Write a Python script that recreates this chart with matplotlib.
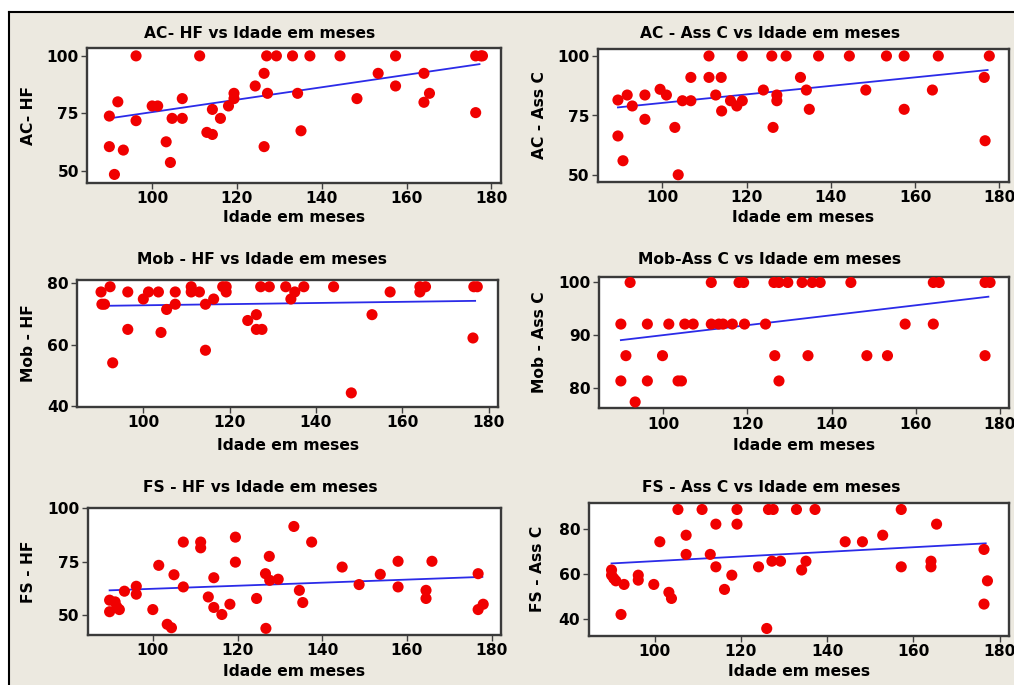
import matplotlib
matplotlib.use("Agg")
import matplotlib.pyplot as plt
from matplotlib.patches import Rectangle

# -------------------------
# Data
# -------------------------
ac_hf_x = [89.9, 89.9, 91.1, 91.9, 93.2, 96.2, 96.2, 100, 101.3, 103.3, 104.3, 104.7,
           107.1, 107.1, 111.2, 112.9, 114.2, 114.2, 116.1, 118, 119.3, 119.3, 124.3,
           126.4, 126.4, 127, 127.2, 129.3, 133.1, 134.3, 135.1, 137.2, 144.3, 148.3,
           153.3, 157.4, 157.4, 164.1, 164.1, 165.4, 176.3, 176.3, 177.5, 177.9]
ac_hf_y = [73.8, 60.5, 48.4, 80, 59, 100, 71.8, 78.2, 78.2, 62.6, 53.6, 72.8,
           81.4, 72.8, 100, 66.7, 76.7, 65.8, 72.8, 78.2, 83.7, 81.4, 86.9,
           92.4, 60.5, 100, 83.7, 100, 100, 83.7, 67.4, 100, 100, 81.4,
           92.4, 100, 86.9, 92.4, 79.8, 83.7, 75.3, 100, 100, 100]

ac_ass_x = [89.5, 89.5, 90.7, 91.7, 92.9, 95.9, 95.9, 99.5, 101, 103, 103.8, 104.8,
            106.8, 106.8, 111.1, 111.1, 112.7, 114, 114.1, 116.2, 117.7, 119, 119,
            124, 126, 126.3, 127.2, 127.2, 129.4, 132.8, 134.2, 134.9, 137.1, 144.4,
            148.3, 153.2, 157.4, 157.4, 164.1, 165.5, 176.4, 176.6, 177.6]
ac_ass_y = [81.5, 66.4, 56, 83.6, 79, 83.6, 73.4, 86, 83.6, 70, 50.1, 81.2,
            91, 81.2, 100, 91, 83.6, 91, 76.9, 81.2, 79, 81.2, 100,
            85.7, 100, 70, 83.6, 81.2, 100, 91, 85.7, 77.6, 100, 100,
            85.7, 100, 100, 77.6, 85.7, 100, 91, 64.4, 100]

mob_hf_x = [90.2, 90.4, 91, 92.3, 92.9, 96.4, 96.4, 100, 101.2, 103.5, 104.1, 105.4,
            107.4, 107.4, 111.1, 111.1, 113, 114.4, 114.4, 116.3, 118.4, 119.2, 119.2,
            124.2, 126.2, 126.2, 127.5, 127.2, 129.2, 133, 134.2, 135.1, 137.2, 144.1,
            148.2, 153, 157.2, 164.1, 164.1, 165.4, 176.4, 176.6, 177.4]
mob_hf_y = [77.2, 73.2, 73.2, 78.9, 54.1, 77.2, 65, 74.9, 77.2, 77.2, 64, 71.5,
            77.2, 73.2, 78.9, 77.2, 77.2, 73.2, 58.2, 74.9, 78.9, 78.9, 77.2,
            67.9, 69.8, 65, 65, 78.9, 78.9, 78.9, 74.9, 77.2, 78.9, 78.9,
            44.3, 69.8, 77.2, 78.9, 77.2, 78.9, 62.2, 78.9, 78.9]

mob_ass_x = [89.9, 89.9, 91.1, 92.1, 93.3, 96.2, 96.2, 99.8, 101.3, 103.5, 104.3, 105.1,
             107.1, 111.4, 111.4, 113.2, 114.2, 116.4, 118, 119.1, 119.3, 124.3, 126.3,
             126.5, 127.5, 127.5, 129.6, 133, 134.4, 135.4, 137.3, 144.6, 148.4, 153.3,
             157.5, 164.2, 164.2, 165.6, 176.5, 176.5, 177.7]
mob_ass_y = [92.1, 81.3, 86.1, 100, 77.3, 92.1, 81.3, 86.1, 92.1, 81.3, 81.3, 92.1,
             92.1, 100, 92.1, 92.1, 92.1, 92.1, 100, 100, 92.1, 92.1, 100,
             86.1, 81.3, 100, 100, 100, 86.1, 100, 100, 100, 86.1, 86.1,
             92.1, 100, 92.1, 100, 100, 86.1, 100]

fs_hf_x = [89.8, 89.8, 91.1, 91.5, 92.1, 93.3, 96.1, 96.1, 100, 101.4, 103.4, 104.4,
           105, 107.2, 107.2, 111.3, 111.3, 113.1, 114.4, 114.4, 116.3, 118.2, 119.5,
           119.5, 124.5, 126.6, 126.7, 127.5, 127.6, 129.6, 133.3, 134.6, 135.4, 137.5,
           144.7, 148.7, 153.7, 157.9, 157.9, 164.5, 164.5, 165.9, 176.8, 176.8, 178]
fs_hf_y = [57, 51.6, 56.2, 53.9, 52.6, 61.2, 63.5, 59.8, 52.6, 73.3, 45.7, 44.1,
           68.9, 84.2, 63.2, 84.2, 81.5, 58.5, 67.5, 53.6, 50.3, 55.1, 86.5,
           74.8, 57.8, 69.4, 43.8, 77.5, 66.3, 66.8, 91.5, 61.6, 55.9, 84.2,
           72.5, 64.3, 69.1, 75.2, 63.2, 61.6, 57.8, 75.2, 69.4, 52.6, 55.1]

fs_ass_x = [90, 90, 90.5, 91, 92.2, 92.9, 96.2, 96.2, 99.8, 101.2, 103.3, 103.9,
            105.4, 107.3, 107.3, 111, 112.9, 114.2, 114.2, 116.2, 117.9, 119.1, 119.1,
            124.1, 126, 126.4, 127.5, 127.2, 129.2, 132.9, 134.1, 135.1, 137.2, 144.2,
            148.2, 152.9, 157.2, 157.2, 164.1, 164.1, 165.4, 176.4, 176.4, 177.2]
fs_ass_y = [61.9, 59.6, 58.2, 57.1, 42.2, 55.5, 59.6, 57.4, 55.5, 74.4, 52, 49.3,
            88.7, 77.3, 68.8, 88.7, 68.8, 82.2, 63.3, 53.3, 59.6, 88.7, 82.2,
            63.3, 36, 88.7, 88.7, 65.8, 65.8, 88.7, 61.9, 65.8, 88.7, 74.4,
            74.4, 77.3, 88.7, 63.3, 65.8, 63.3, 82.2, 71, 46.8, 57.1]

# fitted line end points (x start/end, y start/end) as drawn
fit_x = {"ac_hf": [89.9, 177.2], "ac_ass": [89.5, 177.2], "mob_hf": [91.9, 176.9],
         "mob_ass": [89.9, 177.3], "fs_hf": [89.8, 177.8], "fs_ass": [90, 176.8]}
fit_y = {"ac_hf": [72.8, 96.4], "ac_ass": [78.4, 94.1], "mob_hf": [72.7, 74.3],
         "mob_ass": [89.05, 97.3], "fs_hf": [61.6, 67.9], "fs_ass": [64.8, 73.7]}

titles = ["AC- HF vs Idade em meses", "AC - Ass C vs Idade em meses",
          "Mob - HF vs Idade em meses", "Mob-Ass C vs Idade em meses",
          "FS - HF vs Idade em meses", "FS - Ass C vs Idade em meses"]
ylabels = ["AC- HF", "AC - Ass C", "Mob - HF", "Mob - Ass C", "FS - HF", "FS - Ass C"]
xlabel = "Idade em meses"
xticks = [100, 120, 140, 160, 180]
yticks = [[50, 75, 100], [50, 75, 100], [40, 60, 80], [80, 90, 100], [50, 75, 100], [40, 60, 80]]

# -------------------------
# Layout (pixels of the original picture)
# -------------------------
W, H = 1014, 685
BG = "#ECE9E0"
FS = 11.2
boxes = [(87.3, 500.7, 48.3, 182.7), (597.7, 1008.7, 49.3, 181.7),
         (77.3, 498.0, 280.0, 406.7), (599.0, 1009.0, 276.7, 408.3),
         (88.0, 501.0, 508.3, 635.0), (588.7, 1009.0, 502.7, 635.7)]
ylims = [(44.8, 103.3), (47.2, 102.8), (39.8, 81.1), (76.1, 101.1), (40.7, 99.8), (32.8, 91.7)]
title_pos = [(260, 33), (770, 33), (262, 259), (770, 259), (260, 487), (771, 487)]
ylabel_x = [28, 539, 28, 539, 28, 538]
xlabel_y = [218, 218, 445, 446, 672, 672]

series = [("ac_hf", ac_hf_x, ac_hf_y), ("ac_ass", ac_ass_x, ac_ass_y),
          ("mob_hf", mob_hf_x, mob_hf_y), ("mob_ass", mob_ass_x, mob_ass_y),
          ("fs_hf", fs_hf_x, fs_hf_y), ("fs_ass", fs_ass_x, fs_ass_y)]

plt.rcParams["font.family"] = "DejaVu Sans"
plt.rcParams["font.weight"] = "bold"

fig = plt.figure(figsize=(W / 100, H / 100), dpi=100)
fig.patch.set_facecolor("white")

# beige panel with black frame on top and left
fig.patches.append(Rectangle((9 / W, 0), 1 - 9 / W, 1 - 12 / H, transform=fig.transFigure,
                             facecolor=BG, edgecolor="none", zorder=-5))
fig.add_artist(plt.Line2D([9 / W, 1], [1 - 12 / H, 1 - 12 / H], transform=fig.transFigure,
                          color="black", lw=1.5, zorder=-4))
fig.add_artist(plt.Line2D([9 / W, 9 / W], [0, 1 - 12 / H], transform=fig.transFigure,
                          color="black", lw=1.5, zorder=-4))

for i, (key, xs, ys) in enumerate(series):
    L, R, T, B = boxes[i]
    ax = fig.add_axes([L / W, 1 - B / H, (R - L) / W, (B - T) / H])
    ax.set_zorder(2)
    ax.set_facecolor("white")
    ax.scatter(xs, ys, s=64, color="#F00000", edgecolors="none", zorder=3)
    ax.plot(fit_x[key], fit_y[key], color="#2B2BE8", lw=1.3, zorder=2)
    ax.set_xlim(84.7, 182.2)
    ax.set_ylim(*ylims[i])
    ax.set_xticks(xticks)
    ax.set_yticks(yticks[i])
    ax.tick_params(labelsize=FS, length=4, width=1, color="#404040", pad=2)
    for sp in ax.spines.values():
        sp.set_color("#3A3A3A")
        sp.set_linewidth(1.7)

    fig.text(title_pos[i][0] / W, 1 - title_pos[i][1] / H, titles[i], ha="center",
             va="center", fontsize=FS, fontweight="bold")
    ax.set_xlabel(xlabel, fontsize=FS, fontweight="bold")
    ax.xaxis.label.set_va("center")
    ax.xaxis.set_label_coords(0.5, -(xlabel_y[i] - B) / (B - T))
    ax.set_ylabel(ylabels[i], fontsize=FS, fontweight="bold")
    ax.yaxis.label.set_va("center")
    ax.yaxis.set_label_coords(-(L - ylabel_x[i]) / (R - L), 0.5)

fig.savefig("out.png", dpi=100, facecolor=fig.get_facecolor())
